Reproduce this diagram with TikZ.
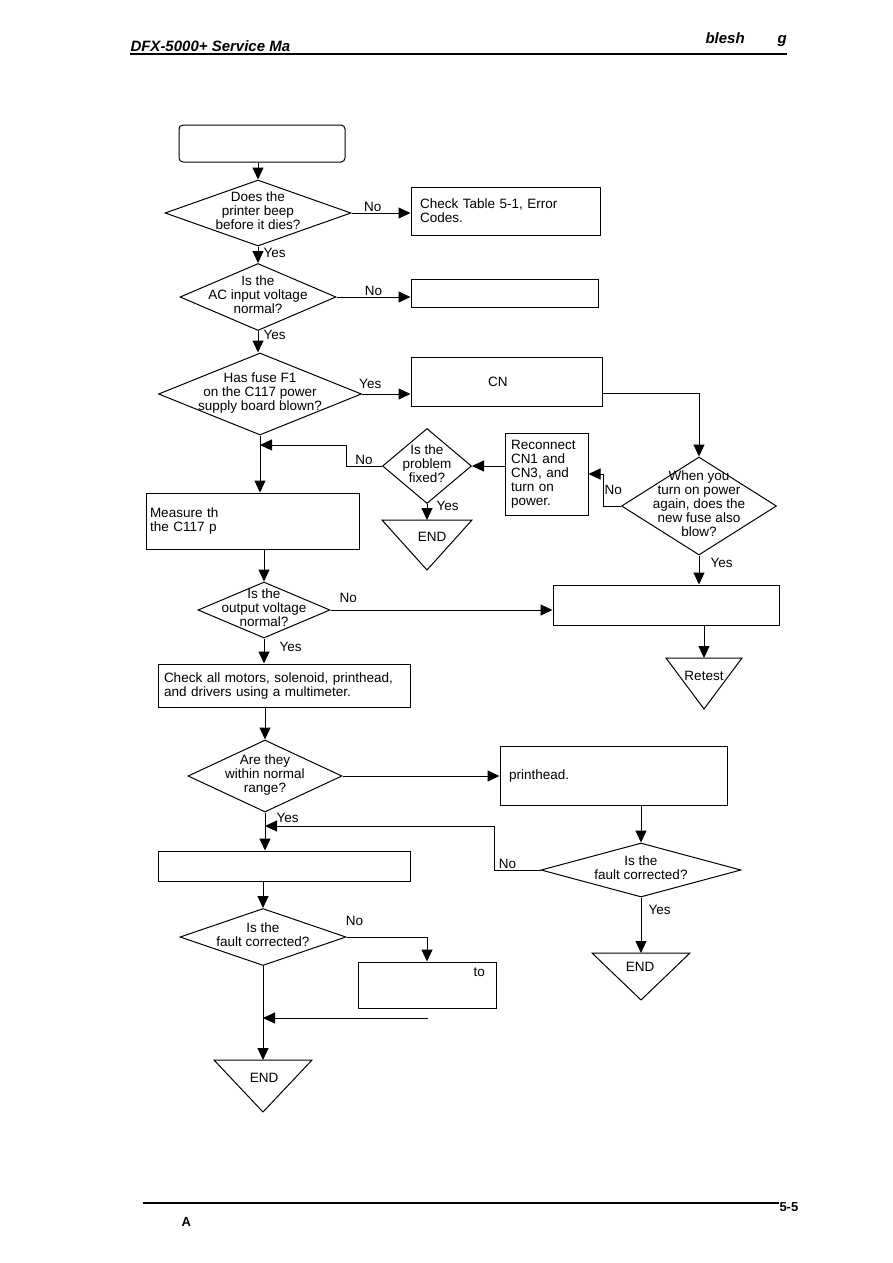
\documentclass[tikz,border=0pt]{standalone}
\usepackage{fontspec}
\setmainfont{Liberation Sans}
\usepackage{tikz}
\usetikzlibrary{positioning}
\usetikzlibrary{shapes,arrows,calc,arrows.meta}
\newcommand{\dlines}[1]{\makebox[0pt]{\begin{tabular}{@{}c@{}}#1\end{tabular}}}

\begin{document}
\begin{tikzpicture}[x=1bp, y=-1bp, line width=1bp,
    >={Triangle[length=12bp,width=11bp]},
    font=\fontsize{13.5bp}{14bp}\selectfont,
    box/.style={draw, rectangle, inner sep=0pt},
    dec/.style={draw, diamond, inner sep=0pt},
    lbl/.style={inner sep=1bp},
    head/.style={anchor=base west, inner sep=0pt, font=\fontsize{15bp}{15bp}\selectfont\bfseries\itshape}]
    \path [use as bounding box, fill=white] (0,0) rectangle (893,1263);

    % Page head and foot
    \node [head] (title) at (130,51) {DFX-5000+ Service Ma};
    \node [head] (chap) at (705,43) {blesh};
    \node [head] (chapg) at (777,43) {g};
    \draw [line width=2bp] (130,54) -- (787,54);
    \draw [line width=2bp] (143,1203) -- (779,1203);
    \node [head, font=\fontsize{13bp}{13bp}\selectfont\bfseries] (pageno) at (779,1211) {5-5};
    \node [head, font=\fontsize{13bp}{13bp}\selectfont\bfseries] (footA) at (181,1226) {A};

    % Nodes
    \node [box, rounded corners=4bp, minimum width=166bp, minimum height=37bp] (start) at (262,143.5) {};
    \node [dec, minimum width=186bp, minimum height=66bp] (d1) at (258,213) {\dlines{Does the\\printer beep\\before it dies?}};
    \node [box, text width=171bp, inner xsep=9bp, minimum height=48bp, align=left] (errbox) at (505.5,211) {Check Table 5-1, Error\\Codes.};
    \node [dec, minimum width=156bp, minimum height=67bp] (d2) at (258,297) {\dlines{Is the\\AC input voltage\\normal?}};
    \node [box, minimum width=187bp, minimum height=28bp] (acbox) at (504.5,293) {};
    \node [dec, minimum width=203bp, minimum height=82bp] (d3) at (260,394) {\dlines{Has fuse F1\\on the C117 power\\supply board blown?}};
    \node [box, text width=173bp, inner xsep=9bp, minimum height=49bp, align=left] (cnbox) at (506.5,381.5) {\hspace*{68bp}CN};
    \node [dec, minimum width=155bp, minimum height=98bp] (d4) at (699,506) {\dlines{When you\\turn on power\\again, does the\\new fuse also\\blow?}};
    \node [box, text width=71bp, inner xsep=6bp, minimum height=82bp, align=left] (recon) at (546.5,474) {Reconnect\\CN1 and\\CN3, and\\turn on\\power.};
    \node [dec, minimum width=89bp, minimum height=75bp] (d5) at (427,466) {\dlines{Is the\\problem\\fixed?}};
    \node [box, text width=205bp, inner xsep=4bp, minimum height=56bp, align=left] (meas) at (252.5,521) {Measure th\\the C117 p};
    \node [dec, minimum width=132bp, minimum height=56bp] (d6) at (264,610) {\dlines{Is the\\output voltage\\normal?}};
    \node [box, minimum width=226bp, minimum height=40bp] (fusebox) at (666,605) {};
    \node [box, text width=240bp, inner xsep=6bp, minimum height=43bp, align=left] (motors) at (284,685.5) {Check all motors, solenoid, printhead,\\and drivers using a multimeter.};
    \node [dec, minimum width=154bp, minimum height=72bp] (d7) at (265,776) {\dlines{Are they\\within normal\\range?}};
    \node [box, text width=209bp, inner xsep=9bp, minimum height=59bp, align=left] (headbox) at (613.5,775.5) {printhead.};
    \node [dec, minimum width=200bp, minimum height=54bp] (d8) at (641,870) {\dlines{Is the\\fault corrected?}};
    \node [box, minimum width=252bp, minimum height=30bp] (blankbox) at (284,866) {};
    \node [dec, minimum width=166bp, minimum height=57bp] (d9) at (263,937) {\dlines{Is the\\fault corrected?}};
    \node [box, text width=116bp, inner xsep=11bp, text height=9bp, text depth=26bp, minimum height=46bp, align=right] (tobox) at (427,985) {to};

    % End marks
    \coordinate (endA) at (427,520);
    \draw (382,520) -- (472,520) -- (427,570) -- cycle;
    \node (endAtxt) at (432,537) {END};
    \coordinate (retest) at (704,658);
    \draw (666,658) -- (742,658) -- (704,709) -- cycle;
    \node (retesttxt) at (704,676) {Retest};
    \coordinate (endB) at (641,953);
    \draw (592,953) -- (690,953) -- (641,1000) -- cycle;
    \node (endBtxt) at (640,967) {END};
    \coordinate (endC) at (263,1060);
    \draw (214,1060) -- (312,1060) -- (263,1112) -- cycle;
    \node (endCtxt) at (264,1078) {END};

    % Junctions
    \coordinate (j1) at (d3.south |- 0,445);
    \coordinate (j2) at (d7.south |- 0,826);
    \coordinate (loose) at (428,1018);

    % Arrows
    \draw [->] (start.south -| d1.north) -- (d1.north);
    \draw [->] (d1.east) -- node [lbl, above, pos=0.36] {No} (d1.east -| errbox.west);
    \draw [->] (d1.south) -- node [lbl, right=4bp, pos=0.4] {Yes} (d1.south |- d2.north);
    \draw [->] (d2.east) -- node [lbl, above, pos=0.5] {No} (d2.east -| acbox.west);
    \draw [->] (d2.south) -- node [lbl, right=4bp, pos=0.2] {Yes} (d2.south |- d3.north);
    \draw [->] (d3.east) -- node [lbl, above=4bp, pos=0.17] {Yes} (d3.east -| cnbox.west);
    \draw [->] ([yshift=-12bp]cnbox.east) -| (d4.north);
    \draw [->] (d4.west) -- ++(-18,0) |- node [lbl, right, pos=0.25] {No} (recon.east);
    \draw [->] (recon.west |- d5.east) -- (d5.east);
    \draw [->] (d5.west) -- node [lbl, above] {No} ++(-36,0) |- (j1);
    \draw [->] (d5.south) -- node [lbl, right=8bp, pos=0.1] {Yes} (endA);
    \draw [->] (d3.south) -- (d3.south |- meas.north);
    \draw [->] (d6.north |- meas.south) -- (d6.north);
    \draw [->] (d6.east) -- node [lbl, above=6bp, pos=0.08] {No} (d6.east -| fusebox.west);
    \draw [->] (d4.south) -- node [lbl, right=10bp, pos=0.27] {Yes} (d4.south |- fusebox.north);
    \draw [->] (retest |- fusebox.south) -- (retest);
    \draw [->] (d6.south) -- node [lbl, right=14bp, pos=0.35] {Yes} (d6.south |- motors.north);
    \draw [->] (d7.north |- motors.south) -- (d7.north);
    \draw [->] (d7.east) -- (d7.east -| headbox.west);
    \draw [->] (d8.north |- headbox.south) -- (d8.north);
    \draw [->] (d8.west) -- node [lbl, above, pos=0.72] {No} ++(-46,0) |- (j2);
    \draw [->] (d7.south) -- node [lbl, right=10bp, pos=0.13] {Yes} (d7.south |- blankbox.north);
    \draw [->] (d8.south) -- node [lbl, right=6bp, pos=0.23] {Yes} (endB);
    \draw [->] (d9.north |- blankbox.south) -- (d9.north);
    \draw [->] (d9.east) -| node [lbl, above=10bp, pos=0.05] {No} (tobox.north);
    \draw [->] (loose) -- (d9.south |- loose);
    \draw [->] (d9.south) -- (endC);
\end{tikzpicture}
\end{document}
